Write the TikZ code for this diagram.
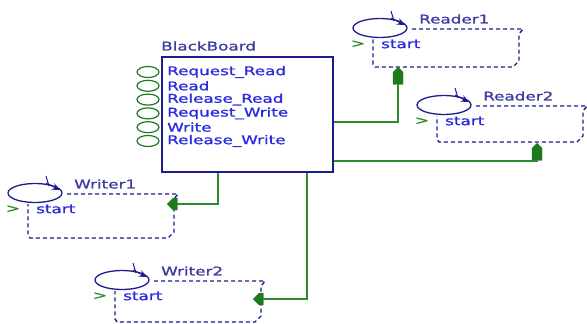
\documentclass[tikz,border=0pt]{standalone}
\usepackage{fontspec}
\usepackage{xcolor}
\usetikzlibrary{arrows.meta, shapes.geometric, shapes.symbols}
\newfontfamily\diafont[FakeStretch=1.4, FakeBold=1.2]{DejaVu Sans}
\definecolor{navy}{HTML}{1C1C8C}
\definecolor{txtblue}{HTML}{2A2AE0}
\definecolor{ttlblue}{HTML}{3C3CA0}
\definecolor{pgreen}{HTML}{1E7A1E}
\definecolor{wgreen}{HTML}{2E8B2E}

\begin{document}
\begin{tikzpicture}[x=1pt, y=-1pt]
  \tikzset{
    board/.style={rectangle, draw=navy, line width=1.6pt, anchor=north west,
                  minimum width=171pt, minimum height=115pt, inner sep=0pt},
    pnode/.style={ellipse, draw=pgreen, line width=1.2pt,
                  minimum width=22pt, minimum height=11pt, inner sep=0pt},
    state/.style={ellipse, draw=navy, line width=1.3pt,
                  minimum width=54pt, minimum height=19pt, inner sep=0pt},
    ptext/.style={anchor=west, inner sep=1pt, font=\diafont\fontsize{12}{12}\selectfont, text=txtblue},
    title/.style={anchor=west, inner sep=1pt, font=\diafont\fontsize{12}{12}\selectfont, text=ttlblue},
    gtext/.style={inner sep=1pt, font=\diafont\fontsize{12}{12}\selectfont, text=wgreen},
    dbox/.style={draw=navy, line width=1.4pt, dash pattern=on 4pt off 3pt},
    port/.style={shape=signal, fill=pgreen, draw=pgreen, inner sep=0pt,
                 minimum width=10pt, minimum height=12pt},
    wire/.style={draw=wgreen, line width=1.5pt}
  }
  \useasboundingbox (0,0) rectangle (587,324);
  % Blackboard object with its entries
  \node[board] (bb) at (161,56) {};
  \node[title] (bbt) at (160,46) {BlackBoard};
  \foreach \t [count=\i] in {Request\_Read, Read, Release\_Read,
                            Request\_Write, Write, Release\_Write} {
    \node[pnode] (e\i) at (148,{72+13.8*(\i-1)}) {};
    \node[ptext] (n\i) at (166,{72+13.8*(\i-1)}) {\t};
  }
  % Reader and writer processes
  \foreach \p/\lbl/\cx/\cy/\h in {rd1/Reader1/380/28/39, rd2/Reader2/444/105/37,
                                  wr1/Writer1/35/193/45, wr2/Writer2/122/280/42} {
    \node[state] (\p) at (\cx,\cy) {};
    \draw[navy, line width=1.1pt, -{Stealth[length=8pt, width=7pt]}]
      ({\cx+11},{\cy-10}) -- ({\cx+25},{\cy-3});
    \draw[navy, line width=1pt] ({\cx+11},{\cy-17}) -- ({\cx+14},{\cy-7});
    \node[title] (\p-t) at ({\cx+38},{\cy-9}) {\lbl};
    \node[ptext] (\p-s) at ({\cx},{\cy+16}) {start};
    \node[gtext] (\p-g) at ({\cx-22},{\cy+16}) {>};
    \draw[dbox] ({\cx+32},{\cy+1}) -- ({\cx+143},{\cy+1}) -- ({\cx+139},{\cy+6})
      -- ({\cx+139},{\cy+\h-6}) -- ({\cx+133},{\cy+\h}) -- ({\cx-5},{\cy+\h})
      -- ({\cx-7},{\cy+\h-3}) -- ({\cx-7},{\cy+11});
  }
  % Ports
  \node[port, signal to=north, anchor=north] (rd1p) at (398,67) {};
  \node[port, signal to=north, anchor=north] (rd2p) at (537,143) {};
  \node[port, signal to=west, anchor=west]   (wr1p) at (167,204) {};
  \node[port, signal to=west, anchor=west]   (wr2p) at (253,299) {};
  % Wires
  \draw[wire] ([yshift=-7.5pt]bb.east) -| (rd1p.south);
  \draw[wire] ([yshift=-46.5pt]bb.east) -| (rd2p.south);
  \draw[wire] ([xshift=57pt]bb.south west) |- (wr1p.east);
  \draw[wire] ([xshift=146pt]bb.south west) |- (wr2p.east);
\end{tikzpicture}
\end{document}
